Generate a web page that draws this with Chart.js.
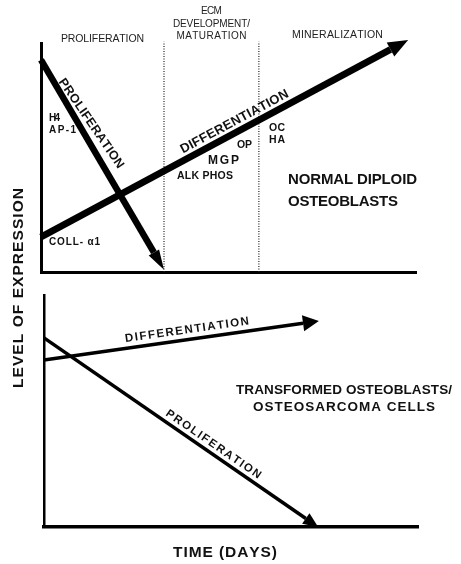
<!DOCTYPE html>
<html>
<head>
<meta charset="utf-8">
<script src="https://cdn.jsdelivr.net/npm/chart.js@4.4.1/dist/chart.umd.min.js"></script>
<style>
  html, body { margin: 0; padding: 0; background: #fff; }
  #wrap { position: relative; width: 461px; height: 564px; overflow: hidden; }
  canvas { position: absolute; left: 0; top: 0; }
</style>
</head>
<body>
<div id="wrap">
  <canvas id="normal" width="461" height="564"></canvas>
  <canvas id="transformed" width="461" height="564"></canvas>
</div>
<script>
// ---- data: relative culture time (0-100) vs. relative level of expression (0-100) ----
const phaseNames  = [['PROLIFERATION'], ['ECM', 'DEVELOPMENT/', 'MATURATION'], ['MINERALIZATION']];
const phaseBounds = [0, 32.8, 58.1, 100];

const seriesNames = ['PROLIFERATION', 'DIFFERENTIATION'];

// normal diploid osteoblasts
const normalProlifTime  = [0, 32.8];
const normalProlifLevel = [92.6, 1.0];
const normalDiffTime    = [0, 97.9];
const normalDiffLevel   = [15.3, 101.3];

// transformed osteoblasts / osteosarcoma cells
const transProlifTime  = [0, 73.3];
const transProlifLevel = [81.5, 0];
const transDiffTime    = [0, 73.5];
const transDiffLevel   = [72.0, 88.8];

const markerNames = ['H4', 'AP-1', 'COLL- \u03b11', 'OP', 'MGP', 'ALK PHOS', 'OC', 'HA'];
const cellTypes   = [['NORMAL DIPLOID', 'OSTEOBLASTS'], ['TRANSFORMED OSTEOBLASTS/', 'OSTEOSARCOMA CELLS']];
const xTitle = 'TIME (DAYS)';
const yTitle = 'LEVEL OF EXPRESSION';

// ---- layout (pixels) ----
const FONT = '"Liberation Sans", Arial, Helvetica, sans-serif';
const INK = '#111';
const phaseLayout = [
  { y: [39], w: [83], size: 10.5 },
  { y: [11.5, 24, 36], w: [21, 77, 70], size: 10 },
  { y: [35], w: [91], size: 10.5 }
];
const markerLayout = [
  { x: 49,  y: 118.5, w: 11, size: 10 },
  { x: 49,  y: 130.5, w: 27, size: 10 },
  { x: 49,  y: 242,   w: 51, size: 10 },
  { x: 237, y: 145.5, w: 15, size: 10.5 },
  { x: 208, y: 160.5, w: 31, size: 12 },
  { x: 177, y: 176,   w: 56, size: 10.5 },
  { x: 269, y: 128,   w: 16, size: 10.5 },
  { x: 269, y: 140.5, w: 16, size: 10.5 }
];
const cellLayout = [
  [{ x: 288, y: 180, w: 129, size: 15 }, { x: 288, y: 202, w: 110, size: 15 }],
  [{ x: 236, y: 390, w: 216, size: 13.5 }, { x: 253, y: 407, w: 182, size: 13.5 }]
];

// draws a string so that it spans exactly `width` pixels (extra letter spacing)
function spacedText(ctx, str, x, y, o) {
  ctx.save();
  ctx.translate(x, y);
  if (o.angle) ctx.rotate(o.angle);
  ctx.font = `${o.weight || 'bold'} ${o.size}px ${FONT}`;
  ctx.fillStyle = o.color || INK;
  ctx.textBaseline = 'middle';
  ctx.textAlign = 'left';
  const chars = Array.from(str);
  const widths = chars.map(c => ctx.measureText(c).width);
  const natural = widths.reduce((a, b) => a + b, 0);
  const target = o.width || natural;
  const gap = chars.length > 1 ? (target - natural) / (chars.length - 1) : 0;
  let cx = o.align === 'left' ? 0 : -target / 2;
  chars.forEach((c, i) => { ctx.fillText(c, cx, 0); cx += widths[i] + gap; });
  ctx.restore();
}

function headGeometry(meta, ds) {
  const pts = meta.data;
  const a = pts[pts.length - 2], b = pts[pts.length - 1];
  const dx = b.x - a.x, dy = b.y - a.y, len = Math.hypot(dx, dy);
  const u = { x: dx / len, y: dy / len };
  return { tip: { x: b.x, y: b.y }, u, n: { x: -u.y, y: u.x }, L: ds.head.len, hw: ds.head.hw };
}

// arrowheads at the end of the trend lines
const arrowHeads = {
  id: 'arrowHeads',
  beforeDatasetDraw(chart, args) {
    const ds = chart.data.datasets[args.index];
    if (!ds.head) return;
    const { tip, u, n, L } = headGeometry(args.meta, ds);
    const ctx = chart.ctx, w = ds.borderWidth + 4;
    const bx = tip.x - u.x * L, by = tip.y - u.y * L;
    const fx = tip.x + u.x * 10, fy = tip.y + u.y * 10;
    ctx.save();
    ctx.beginPath();
    ctx.rect(0, 0, chart.width, chart.height);
    ctx.moveTo(bx + n.x * w, by + n.y * w);
    ctx.lineTo(fx + n.x * w, fy + n.y * w);
    ctx.lineTo(fx - n.x * w, fy - n.y * w);
    ctx.lineTo(bx - n.x * w, by - n.y * w);
    ctx.closePath();
    ctx.clip('evenodd');
  },
  afterDatasetDraw(chart, args) {
    const ds = chart.data.datasets[args.index];
    if (!ds.head) return;
    const ctx = chart.ctx;
    ctx.restore();
    const { tip, u, n, L, hw } = headGeometry(args.meta, ds);
    const bx = tip.x - u.x * L, by = tip.y - u.y * L;
    ctx.save();
    ctx.fillStyle = ds.borderColor;
    ctx.beginPath();
    ctx.moveTo(tip.x, tip.y);
    ctx.lineTo(bx + n.x * hw, by + n.y * hw);
    ctx.lineTo(bx - n.x * hw, by - n.y * hw);
    ctx.closePath();
    ctx.fill();
    ctx.restore();
  }
};

// names written along each trend line
const lineCaptions = {
  id: 'lineCaptions',
  afterDatasetsDraw(chart) {
    const ctx = chart.ctx;
    chart.data.datasets.forEach((ds, i) => {
      if (!ds.caption) return;
      const pts = chart.getDatasetMeta(i).data;
      const a = pts[0], b = pts[pts.length - 1];
      const ang = Math.atan2(b.y - a.y, b.x - a.x);
      const c = ds.caption;
      const px = a.x + (b.x - a.x) * c.t + Math.sin(ang) * c.above;
      const py = a.y + (b.y - a.y) * c.t - Math.cos(ang) * c.above;
      spacedText(ctx, ds.label, px, py, { size: c.size, width: c.width, angle: ang + (c.tilt || 0) });
    });
  }
};

function axisScale(width) {
  return {
    type: 'linear', min: 0, max: 100,
    ticks: { display: false },
    grid: { display: false, drawTicks: false },
    border: { display: true, color: '#000', width }
  };
}

function line(time, level, extra) {
  return Object.assign({
    data: time.map((t, i) => ({ x: t, y: level[i] })),
    showLine: true, borderColor: '#000', pointRadius: 0, fill: false,
    tension: 0, clip: false
  }, extra);
}

const common = (padding) => ({
  responsive: false, animation: false, events: [],
  devicePixelRatio: 1,
  layout: { padding },
  plugins: { legend: { display: false }, tooltip: { enabled: false }, title: { display: false } }
});

// ---- normal diploid osteoblasts ----
new Chart(document.getElementById('normal'), {
  type: 'scatter',
  data: {
    datasets: [
      line(normalProlifTime, normalProlifLevel, {
        label: seriesNames[0], borderWidth: 6.5, head: { len: 20, hw: 6 },
        caption: { t: 0.33, above: 11, size: 12.5, width: 106, tilt: -0.07 }
      }),
      line(normalDiffTime, normalDiffLevel, {
        label: seriesNames[1], borderWidth: 7, head: { len: 20, hw: 8 },
        caption: { t: 0.54, above: 10, size: 13, width: 121 }
      }),
      ...phaseBounds.slice(1, -1).map(b => line([b, b], [0, 100.5], {
        label: 'phase', borderWidth: 1.2, borderColor: '#222', borderDash: [1, 1.5]
      }))
    ]
  },
  options: Object.assign(common({ left: 41, top: 43, right: 45, bottom: 292 }), {
    scales: { x: axisScale(3), y: axisScale(3) }
  }),
  plugins: [arrowHeads, lineCaptions, {
    id: 'normalText',
    afterDraw(chart) {
      const ctx = chart.ctx, xs = chart.scales.x;
      phaseNames.forEach((lines, i) => {
        const cx = xs.getPixelForValue((phaseBounds[i] + phaseBounds[i + 1]) / 2);
        lines.forEach((s, j) => spacedText(ctx, s, cx, phaseLayout[i].y[j],
          { size: phaseLayout[i].size, width: phaseLayout[i].w[j], weight: 'normal', color: '#222' }));
      });
      markerNames.forEach((s, i) => {
        const m = markerLayout[i];
        spacedText(ctx, s, m.x, m.y, { size: m.size, width: m.w, align: 'left' });
      });
      cellTypes[0].forEach((s, i) => {
        const c = cellLayout[0][i];
        spacedText(ctx, s, c.x, c.y, { size: c.size, width: c.w, align: 'left' });
      });
    }
  }]
});

// ---- transformed osteoblasts / osteosarcoma cells ----
new Chart(document.getElementById('transformed'), {
  type: 'scatter',
  data: {
    datasets: [
      line(transDiffTime, transDiffLevel, {
        label: seriesNames[1], borderWidth: 3.5, head: { len: 16, hw: 8 },
        caption: { t: 0.525, above: 9.5, size: 11.5, width: 125 }
      }),
      line(transProlifTime, transProlifLevel, {
        label: seriesNames[0], borderWidth: 3.5, head: { len: 15, hw: 6.5 },
        caption: { t: 0.6, above: 8.5, size: 11.5, width: 113 }
      })
    ]
  },
  options: Object.assign(common({ left: 44, top: 295, right: 43, bottom: 37 }), {
    scales: { x: axisScale(3.5), y: axisScale(2.5) }
  }),
  plugins: [arrowHeads, lineCaptions, {
    id: 'transformedText',
    afterDraw(chart) {
      const ctx = chart.ctx;
      cellTypes[1].forEach((s, i) => {
        const c = cellLayout[1][i];
        spacedText(ctx, s, c.x, c.y, { size: c.size, width: c.w, align: 'left' });
      });
      spacedText(ctx, xTitle, 225, 552.5, { size: 15.5, width: 104 });
      spacedText(ctx, yTitle, 19, 288, { size: 15.5, width: 200, angle: -Math.PI / 2 });
    }
  }]
});
</script>
</body>
</html>
